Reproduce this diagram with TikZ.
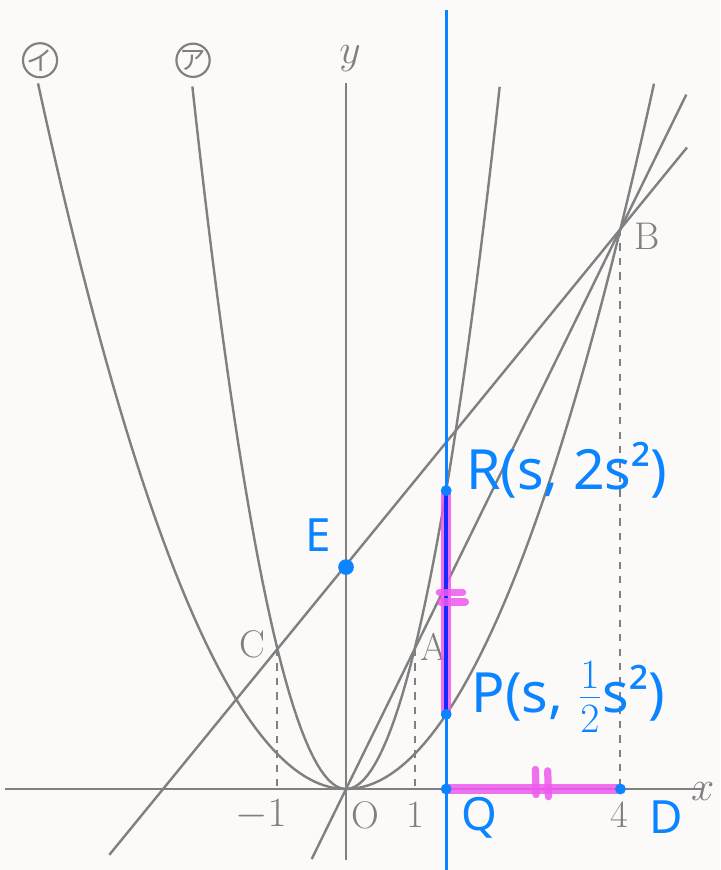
\documentclass[tikz,border=0pt]{standalone}
\usepackage{fontspec}
\newfontfamily\jp{Noto Sans CJK JP}
\newfontfamily\handfont{Noto Sans}
\definecolor{ink}{RGB}{10,132,255}
\definecolor{inkdeep}{RGB}{25,40,255}
\definecolor{pen}{RGB}{238,90,238}
\definecolor{printgray}{RGB}{128,128,128}
\definecolor{paper}{RGB}{252,250,249}
\begin{document}
\begin{tikzpicture}[x=1cm, y=1.0204cm, font=\fontsize{16}{18}\selectfont,
  curve/.style={printgray, line width=1pt},
  guide/.style={printgray, dashed, line width=0.8pt},
  glabel/.style={text=printgray},
  kana/.style={circle, draw=printgray, line width=0.9pt, text=printgray, inner sep=0pt, minimum size=0.48cm, font=\jp\fontsize{11}{11}\selectfont},
  hand/.style={text=ink, font=\handfont\fontsize{23}{26}\selectfont},
  handsm/.style={text=ink, font=\handfont\fontsize{19}{22}\selectfont},
  hl/.style={pen, line width=4pt, opacity=0.85},
  dot/.style={circle, fill=ink, inner sep=0pt, minimum size=4.5pt}]
\fill[paper] (-5.044,-1.157) rectangle (5.452,11.271);
\useasboundingbox (-5.044,-1.157) rectangle (5.452,11.271);
% printed figure: axes, parabolas, lines
\draw[curve] (-4.97,0) -- (5.2,0);
\draw[curve] (0,-1.01) -- (0,10.09);
\draw[curve, domain=-2.24:2.24, samples=80] plot (\x, {2*\x*\x});
\draw[curve, domain=-4.49:4.49, samples=100] plot (\x, {0.5*\x*\x});
\coordinate (O) at (0,0);
\coordinate (A) at (1,2);
\coordinate (B) at (4,8);
\coordinate (C) at (-1,2);
\coordinate (lowOB) at (-0.5,-1);
\coordinate (topOB) at (4.96,9.92);
\coordinate (lowCB) at (-3.45,-0.94);
\coordinate (topCB) at (4.97,9.164);
\draw[curve] (lowOB) -- (topOB);
\draw[curve] (lowCB) -- (topCB);
\foreach \p/\xx in {C/-1,A/1,B/4} \draw[guide] (\p) -- (\xx,0);
\node[glabel] (labA) at (1.28,2.03) {A};
\node[glabel] (labB) at (4.39,7.89) {B};
\node[glabel] (labC) at (-1.36,2.06) {C};
\foreach \t/\xx [count=\i] in {$-1$/-1.24,O/0.28,1/1.01,4/3.98} \node[glabel] (num\i) at (\xx,-0.37) {\t};
\node[glabel] (labx) at (5.2,-0.04) {$x$};
\node[glabel] (laby) at (0.06,10.44) {$y$};
\node[kana] (kanaI) at (-4.46,10.41) {イ};
\node[kana] (kanaA) at (-2.23,10.41) {ア};
% handwritten layer
\def\s{1.46}
\coordinate (R) at (\s,{2*\s*\s});
\coordinate (P) at (\s,{0.5*\s*\s});
\coordinate (Q) at (\s,0);
\coordinate (D) at (4,0);
\coordinate (E) at (0,3.17);
\draw[hl] (R) -- (P);
\draw[hl] (Q) -- (D);
\draw[ink, line width=1.2pt] (\s,-1.157) -- (\s,11.13);
\draw[inkdeep, line width=1.5pt] (R) -- (P);
\draw[hl, line width=3pt, line cap=round] (1.36,2.81) -- (1.70,2.81);
\draw[hl, line width=3pt, line cap=round] (1.38,2.67) -- (1.74,2.67);
\draw[hl, line width=3pt, line cap=round] (2.76,0.28) -- (2.77,-0.08);
\draw[hl, line width=3pt, line cap=round] (2.94,0.26) -- (2.95,-0.11);
\foreach \p in {R,P,Q,D} \node[dot] (dot\p) at (\p) {};
\node[dot, minimum size=6.5pt] (dotE) at (E) {};
\node[hand] (labR) at (3.22,4.56) {R(s, 2s²)};
\node[hand] (labP) at (3.24,1.31) {P(s, $\frac{1}{2}$s²)};
\node[handsm] (labQ) at (1.94,-0.41) {Q};
\node[handsm] (labD) at (4.66,-0.40) {D};
\node[handsm] (labE) at (-0.41,3.63) {E};
\end{tikzpicture}
\end{document}
